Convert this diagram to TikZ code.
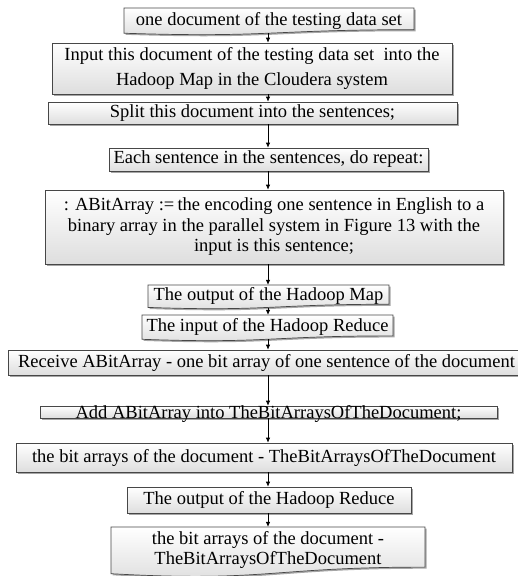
\documentclass[tikz,border=0pt]{standalone}
\usepackage{fontspec}
\setmainfont{Liberation Serif}
\usetikzlibrary{shadows,arrows.meta,calc}

\tikzset{
  boxfill/.style={draw=black!72, line width=0.7pt, top color=white, bottom color=black!13,
    drop shadow={shadow xshift=1.6pt, shadow yshift=-1.6pt, fill=black, opacity=0.35}},
  flowfont/.style={font=\fontsize{18.5}{22}\selectfont},
  procbox/.style={boxfill, rectangle, inner sep=0pt, align=center, flowfont},
  doctext/.style={inner sep=0pt, align=center, flowfont},
  flow/.style={draw=black, line width=0.7pt, -{Latex[length=5pt,width=4.5pt]}},
}

% flowchart "document" symbol: straight top, wavy bottom
% #1 name, #2 left, #3 right, #4 top, #5 height, #6 text
\newcommand\docshape[6]{%
  \path[boxfill] (#2,#4) -- (#3,#4) -- (#3,{#4+0.802*#5})
    .. controls ({(#2+#3)/2},{#4+0.802*#5}) and ({(#2+#3)/2},{#4+1.107*#5}) ..
    (#2,{#4+0.934*#5}) -- cycle;
  \node[doctext, minimum width={#3-#2}, minimum height={0.933*#5}] (#1)
    at ({(#2+#3)/2},{#4+0.4665*#5}) {#6};
}

\begin{document}
\begin{tikzpicture}[x=1pt,y=-1pt]
  \fill[white] (0,0) rectangle (518,576);
  \useasboundingbox (0,0) rectangle (518,576);

  \coordinate (ax) at (268,0);

  \docshape{d1}{124}{414}{8}{27}{one document of the testing data set}

  \node[procbox, minimum width=400pt, minimum height=51pt,
        font=\fontsize{18.5}{25}\selectfont] (b2) at (252,68.5)
    {Input this document of the testing data set\ \ into the\\Hadoop Map in the Cloudera system};

  \node[procbox, minimum width=409pt, minimum height=22pt] (b3) at (252.5,113)
    {Split this document into the sentences;};

  \node[procbox, minimum width=319pt, minimum height=23pt] (b4) at (268.5,159.5)
    {Each sentence in the sentences, do repeat:};

  \node[procbox, minimum width=458pt, minimum height=74pt,
        font=\fontsize{18.5}{20.5}\selectfont] (b5) at (274,227)
    {: ABitArray :=\,the encoding one sentence in English to a\\
     binary array in the parallel system in Figure 13 with the\\
     input is this sentence;};

  \docshape{d6}{148}{389}{285}{24}{The output of the Hadoop Map}
  \docshape{d7}{142}{393}{315}{26}{The input of the Hadoop Reduce}

  \node[procbox, minimum width=517pt, minimum height=25pt] (b8) at (266.5,362.5)
    {Receive ABitArray - one bit array of one sentence of the document};

  \node[procbox, minimum width=457pt, text height=12pt, text depth=0pt,
        anchor=base] (b9) at (268.5,418)
    {Add ABitArray into TheBitArraysOfTheDocument;};

  \node[procbox, minimum width=496pt, minimum height=29pt] (b10) at (264,457.5)
    {the bit arrays of the document - TheBitArraysOfTheDocument};

  \node[procbox, minimum width=284pt, minimum height=26pt] (b11) at (269,500)
    {The output of the Hadoop Reduce};

  \begin{scope}[doctext/.append style={font=\fontsize{18.5}{20}\selectfont}]
    \docshape{d12}{111}{425}{527}{50}{the bit arrays of the document -\\TheBitArraysOfTheDocument}
  \end{scope}

  % connectors, all on one vertical axis
  \draw[flow] (d1.south -| ax) -- (b2.north -| ax);
  \draw[flow] (b2.south -| ax) -- (b3.north -| ax);
  \draw[flow] (b3.south -| ax) -- (b4.north -| ax);
  \draw[flow] (b4.south -| ax) -- (b5.north -| ax);
  \draw[flow] (b5.south -| ax) -- (d6.north -| ax);
  \draw[flow] (d6.south -| ax) -- (d7.north -| ax);
  \draw[flow] (d7.south -| ax) -- (b8.north -| ax);
  \draw[flow] (b8.south -| ax) -- (b9.north -| ax);
  \draw[flow] (b9.south -| ax) -- (b10.north -| ax);
  \draw[flow] (b10.south -| ax) -- (b11.north -| ax);
  \draw[flow] (b11.south -| ax) -- (d12.north -| ax);
\end{tikzpicture}
\end{document}
